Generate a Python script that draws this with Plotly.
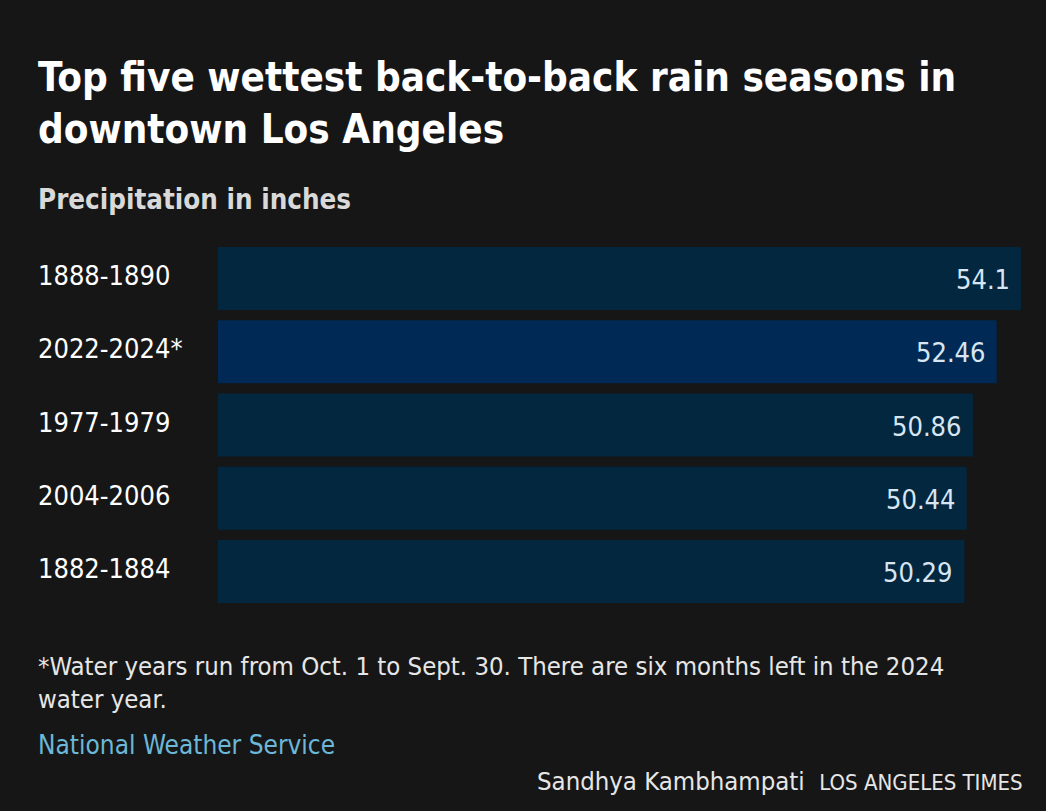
import plotly.graph_objects as go

categories = ["1888-1890", "2022-2024*", "1977-1979", "2004-2006", "1882-1884"]
values = [54.1, 52.46, 50.86, 50.44, 50.29]
value_labels = ["54.1", "52.46", "50.86", "50.44", "50.29"]
highlight = "2022-2024*"

W, H = 1046, 811
L, R, T, B = 218, 25, 242, 203
PW = W - L - R
PH = H - T - B

def px(x):
    return (x - L) / PW

def py(y):
    return 1 - (y - T) / PH

FONT = "DejaVu Sans Condensed, Roboto, sans-serif"
BG = "#161616"
colors = ["#002a55" if c == highlight else "#03273f" for c in categories]

fig = go.Figure(go.Bar(
    x=values, y=categories, orientation="h",
    marker=dict(color=colors, line=dict(width=0)),
    hoverinfo="skip",
))

fig.update_layout(
    width=W, height=H,
    margin=dict(l=L, r=R, t=T, b=B, pad=0),
    paper_bgcolor=BG, plot_bgcolor=BG,
    bargap=0.14,
    showlegend=False,
    xaxis=dict(range=[0, max(values)], visible=False, fixedrange=True),
    yaxis=dict(autorange="reversed", visible=False, fixedrange=True),
)

ann = []
for c, v, lab in zip(categories, values, value_labels):
    ann.append(dict(x=px(36), y=c, xref="paper", yref="y", text=c, showarrow=False,
                    xanchor="left", yanchor="middle", yshift=3,
                    font=dict(family=FONT, size=27, color="#ffffff")))
    ann.append(dict(x=v, y=c, xref="x", yref="y", text=lab, showarrow=False,
                    xanchor="right", yanchor="middle", xshift=-9, yshift=-1,
                    font=dict(family=FONT, size=27, color="#d7e6f2")))

def txt(x, y, s, size, color, bold=False, anchor="left"):
    ann.append(dict(x=px(x), y=py(y), xref="paper", yref="paper",
                    text=("<b>%s</b>" % s) if bold else s, showarrow=False,
                    xanchor=anchor, yanchor="middle",
                    font=dict(family=FONT, size=size, color=color)))

txt(36, 77, "Top five wettest back-to-back rain seasons in", 40, "#ffffff", bold=True)
txt(36, 129, "downtown Los Angeles", 40, "#ffffff", bold=True)
txt(36, 199, "Precipitation in inches", 27.5, "#d9d9d9", bold=True)
txt(36, 666, "*Water years run from Oct. 1 to Sept. 30. There are six months left in the 2024", 25.5, "#e6e6e6")
txt(36, 699, "water year.", 25.5, "#e6e6e6")
txt(36, 745, "National Weather Service", 26, "#6cb8d8")
txt(1025, 781, "Sandhya Kambhampati&nbsp;&nbsp;<span style='font-size:22px'>LOS ANGELES TIMES</span>", 25.5, "#e6e6e6", anchor="right")

fig.update_layout(annotations=ann)
fig.write_html("out.html")
